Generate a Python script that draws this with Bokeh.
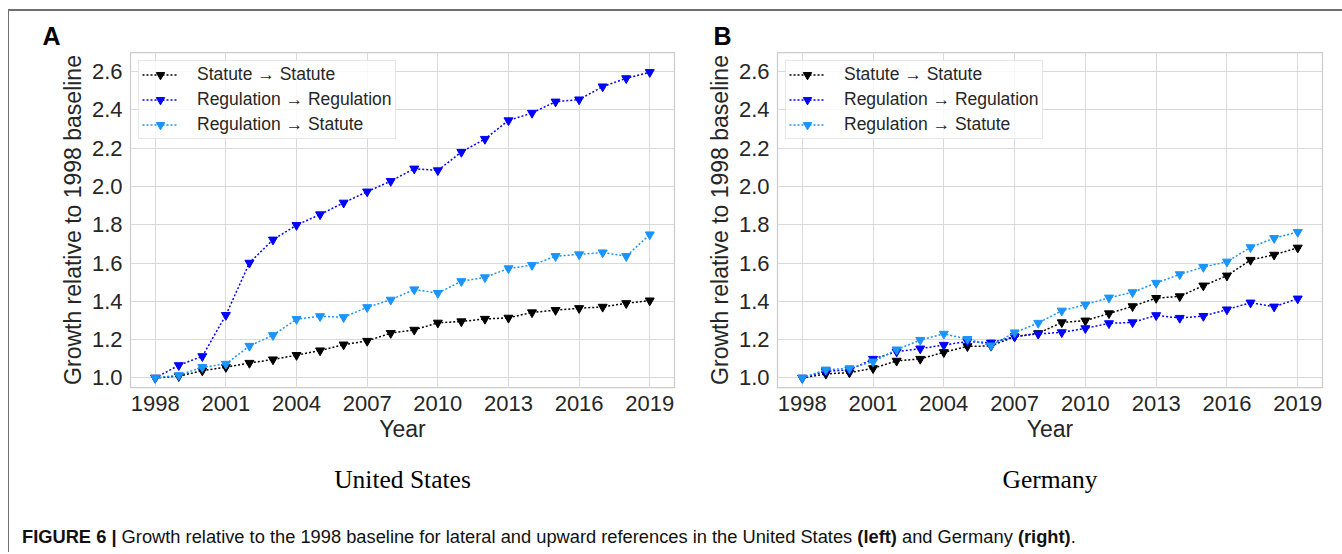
from bokeh.plotting import figure
from bokeh.models import (FixedTicker, PrintfTickFormatter, LinearAxis, Range1d, Div)
from bokeh.layouts import row, column
from bokeh.embed import file_html
from bokeh.resources import INLINE

years = list(range(1998, 2020))

us_statute_statute = [1.000, 1.009, 1.038, 1.056, 1.078, 1.096, 1.119, 1.143, 1.174, 1.193, 1.234,
                      1.251, 1.288, 1.295, 1.308, 1.314, 1.342, 1.354, 1.364, 1.371, 1.390, 1.404]
us_reg_reg = [1.000, 1.066, 1.113, 1.328, 1.601, 1.722, 1.798, 1.854, 1.915, 1.973, 2.028,
              2.093, 2.084, 2.180, 2.248, 2.345, 2.384, 2.443, 2.454, 2.522, 2.565, 2.597]
us_reg_statute = [1.000, 1.014, 1.056, 1.073, 1.167, 1.223, 1.307, 1.322, 1.317, 1.369, 1.408,
                  1.462, 1.443, 1.505, 1.525, 1.572, 1.589, 1.636, 1.645, 1.655, 1.636, 1.749]

de_statute_statute = [1.000, 1.021, 1.028, 1.050, 1.089, 1.099, 1.134, 1.165, 1.167, 1.216, 1.233,
                      1.290, 1.299, 1.337, 1.374, 1.417, 1.426, 1.482, 1.534, 1.616, 1.643, 1.680]
de_reg_reg = [1.000, 1.035, 1.042, 1.099, 1.137, 1.153, 1.172, 1.190, 1.184, 1.216, 1.230,
              1.238, 1.259, 1.285, 1.290, 1.327, 1.313, 1.323, 1.357, 1.393, 1.372, 1.414]
de_reg_statute = [1.000, 1.043, 1.050, 1.085, 1.148, 1.198, 1.230, 1.203, 1.169, 1.237, 1.287,
                  1.351, 1.383, 1.419, 1.447, 1.496, 1.541, 1.579, 1.607, 1.682, 1.730, 1.762]

series_labels = ["Statute \u2192 Statute", "Regulation \u2192 Regulation", "Regulation \u2192 Statute"]
series_colors = ["#000000", "#0000ff", "#1a94ff"]
x_ticks = [1998, 2001, 2004, 2007, 2010, 2013, 2016, 2019]
y_ticks = [1.0, 1.2, 1.4, 1.6, 1.8, 2.0, 2.2, 2.4, 2.6]

FONT = "Liberation Sans"
TXT = "#262626"
GRID = "#d9d9d9"


def make_panel(letter, country, data, width, border_left, border_right):
    p = figure(width=width, height=511, output_backend="svg", toolbar_location=None,
               x_range=Range1d(1996.95, 2020.05), y_range=Range1d(0.95, 2.70),
               min_border_left=border_left, min_border_right=border_right,
               min_border_top=41, min_border_bottom=135)
    p.title.text = letter
    p.title.text_font = FONT
    p.title.text_font_size = "25px"
    p.title.text_font_style = "bold"
    p.title.text_color = "#000000"
    p.title.align = "left"
    p.title.offset = -(border_left - 33)
    p.title.standoff = 6
    p.outline_line_color = "#cccccc"
    p.outline_line_width = 1.25
    p.background_fill_color = "white"
    p.border_fill_color = "white"

    for ax in (p.xaxis[0], p.yaxis[0]):
        ax.axis_line_color = None
        ax.major_tick_line_color = None
        ax.minor_tick_line_color = None
        ax.major_tick_out = 0
        ax.major_tick_in = 0
        ax.major_label_text_font = FONT
        ax.major_label_text_font_size = "22px"
        ax.major_label_text_color = TXT
        ax.axis_label_text_font = FONT
        ax.axis_label_text_font_size = "23px"
        ax.axis_label_text_font_style = "normal"
        ax.axis_label_text_color = TXT
    p.xaxis[0].ticker = FixedTicker(ticks=x_ticks)
    p.yaxis[0].ticker = FixedTicker(ticks=y_ticks)
    p.yaxis[0].formatter = PrintfTickFormatter(format="%.1f")
    p.xaxis[0].axis_label = "Year"
    p.yaxis[0].axis_label = "Growth relative to 1998 baseline"
    p.xaxis[0].major_label_standoff = 8
    p.yaxis[0].major_label_standoff = 8
    p.xaxis[0].axis_label_standoff = 2
    p.yaxis[0].axis_label_standoff = 3

    p.xgrid.ticker = FixedTicker(ticks=x_ticks)
    p.ygrid.ticker = FixedTicker(ticks=y_ticks)
    p.xgrid.grid_line_color = GRID
    p.ygrid.grid_line_color = GRID
    p.xgrid.grid_line_width = 1
    p.ygrid.grid_line_width = 1

    sub = LinearAxis(ticker=FixedTicker(ticks=[]), axis_label=country)
    sub.axis_line_color = None
    sub.major_tick_line_color = None
    sub.minor_tick_line_color = None
    sub.major_label_text_font_size = "0px"
    sub.axis_label_text_font = "Liberation Serif"
    sub.axis_label_text_font_size = "25.5px"
    sub.axis_label_text_font_style = "normal"
    sub.axis_label_text_color = "#000000"
    sub.axis_label_standoff = 20
    p.add_layout(sub, "below")

    for vals, lab, col in zip(data, series_labels, series_colors):
        p.line(years, vals, line_color=col, line_width=1.5, line_dash="2 2", legend_label=lab)
        p.scatter(years, vals, marker="inverted_triangle", size=9, fill_color=col,
                  line_color=col, legend_label=lab)

    lg = p.legend[0]
    lg.location = "top_left"
    lg.margin = 8
    lg.padding = 3
    lg.spacing = 4
    lg.glyph_width = 36
    lg.glyph_height = 21
    lg.label_height = 21
    lg.label_standoff = 19
    lg.label_text_font = FONT
    lg.label_text_font_size = "17.5px"
    lg.label_text_color = TXT
    lg.border_line_color = "#d0d0d0"
    lg.border_line_width = 1
    lg.background_fill_color = "white"
    lg.background_fill_alpha = 0.8
    return p


pa = make_panel("A", "United States", [us_statute_statute, us_reg_reg, us_reg_statute], 671, 121, 6)
pb = make_panel("B", "Germany", [de_statute_statute, de_reg_reg, de_reg_statute], 662, 97, 20)

caption = Div(
    text=("<b>FIGURE 6 |</b> Growth relative to the 1998 baseline for lateral and upward references "
          "in the United States <b>(left)</b> and Germany <b>(right)</b>."),
    width=1300, height=20,
    styles={"font-family": "Liberation Sans, Arial, sans-serif", "font-size": "18.3px",
            "color": "#111111", "padding-left": "8px", "line-height": "20px"})

layout = column(row(pa, pb), caption, width=1334,
                styles={"border-top": "2px solid #707070", "border-left": "1px solid #707070",
                        "background-color": "white", "margin-left": "8px", "margin-top": "9px"})

open("out.html", "w").write(file_html(layout, INLINE))
